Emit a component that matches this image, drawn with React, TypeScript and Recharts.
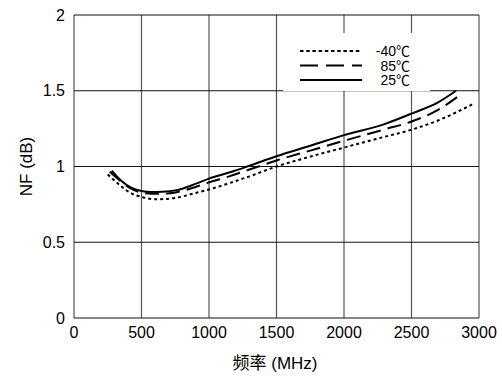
import React from 'react';
import { LineChart, Line, XAxis, YAxis, CartesianGrid } from 'recharts';

const xTicks = [0, 500, 1000, 1500, 2000, 2500, 3000];
const yTicks = [0, 0.5, 1, 1.5, 2];

const freqM40 = [250, 350, 420, 500, 590, 680, 760, 900, 1000, 1150, 1300, 1500, 1750, 2000, 2300, 2500, 2700, 2950];
const nfM40 = [0.948, 0.869, 0.825, 0.8, 0.784, 0.786, 0.794, 0.825, 0.848, 0.89, 0.935, 1.0, 1.065, 1.125, 1.196, 1.243, 1.305, 1.41];

const freq85 = [265, 350, 420, 500, 580, 650, 760, 900, 1000, 1150, 1300, 1500, 1750, 2000, 2300, 2500, 2700, 2850];
const nf85 = [0.965, 0.9, 0.855, 0.827, 0.82, 0.82, 0.83, 0.865, 0.895, 0.935, 0.98, 1.04, 1.105, 1.17, 1.245, 1.297, 1.375, 1.466];

const freq25 = [280, 350, 420, 500, 570, 650, 760, 900, 1000, 1150, 1300, 1500, 1750, 2000, 2300, 2500, 2700, 2830];
const nf25 = [0.973, 0.906, 0.862, 0.838, 0.831, 0.833, 0.844, 0.885, 0.92, 0.96, 1.005, 1.068, 1.137, 1.207, 1.28, 1.349, 1.425, 1.5];

const seriesNames = ['-40℃', '85℃', '25℃'];

const toData = (fs: number[], vs: number[]) => fs.map((f, i) => ({ f, nf: vs[i] }));

const FONT = '"Liberation Sans", Arial, "Noto Sans CJK SC", sans-serif';

const YLabel = (props: any) => {
  const vb = props.viewBox;
  const cx = 26;
  const cy = vb.y + vb.height / 2;
  return (
    <text x={cx} y={cy} transform={`rotate(-90 ${cx} ${cy})`} textAnchor="middle" dominantBaseline="central" fontSize={17} fontFamily={FONT} fill="#000">
      NF (dB)
    </text>
  );
};

const XLabel = (props: any) => {
  const vb = props.viewBox;
  const cx = vb.x + vb.width / 2 - 1.5;
  return (
    <text x={cx} y={363} textAnchor="middle" dominantBaseline="central" fontSize={17} fontFamily={FONT} fill="#000">
      频率 (MHz)
    </text>
  );
};

export default function App() {
  const tickStyle = { fontSize: 16, fontFamily: FONT, fill: '#000' };
  return (
    <div style={{ position: 'absolute', left: 0, top: 0, width: 502, height: 377, background: '#fff' }}>
      <LineChart width={502} height={377} margin={{ top: 15, right: 23, bottom: 0, left: 0 }}>
        <CartesianGrid horizontal={false} stroke="#555" strokeWidth={1.2} />
        <CartesianGrid vertical={false} stroke="#111" strokeWidth={1.1} />
        <XAxis
          dataKey="f"
          type="number"
          domain={[0, 3000]}
          ticks={xTicks}
          allowDataOverflow
          axisLine={false}
          tickLine={false}
          tickSize={6}
          tickMargin={3}
          height={59}
          tick={tickStyle}
          label={<XLabel />}
        />
        <YAxis
          type="number"
          domain={[0, 2]}
          ticks={yTicks}
          allowDataOverflow
          axisLine={false}
          tickLine={false}
          tickSize={6}
          tickMargin={3}
          width={74}
          tick={tickStyle}
          label={<YLabel />}
        />
        <Line data={toData(freqM40, nfM40)} dataKey="nf" name={seriesNames[0]} type="monotone" stroke="#000" strokeWidth={2} strokeDasharray="3 3" dot={false} isAnimationActive={false} />
        <Line data={toData(freq85, nf85)} dataKey="nf" name={seriesNames[1]} type="monotone" stroke="#000" strokeWidth={2} strokeDasharray="14 7" dot={false} isAnimationActive={false} />
        <Line data={toData(freq25, nf25)} dataKey="nf" name={seriesNames[2]} type="monotone" stroke="#000" strokeWidth={2} dot={false} isAnimationActive={false} />
      </LineChart>
      <div style={{ position: 'absolute', left: 283, top: 33, width: 147, height: 58, background: '#fff' }}>
        <svg width={147} height={58}>
          {seriesNames.map((n, i) => {
            const y = 18 + i * 14.5;
            const dash = i === 0 ? '3.5 2.7' : i === 1 ? '18 8' : undefined;
            return (
              <g key={n}>
                <line x1={17} x2={79} y1={y} y2={y} stroke="#000" strokeWidth={2} strokeDasharray={dash} />
                <text x={127} y={y} textAnchor="end" dominantBaseline="central" fontSize={14} fontFamily={FONT} fill="#000">
                  {n}
                </text>
              </g>
            );
          })}
        </svg>
      </div>
    </div>
  );
}
